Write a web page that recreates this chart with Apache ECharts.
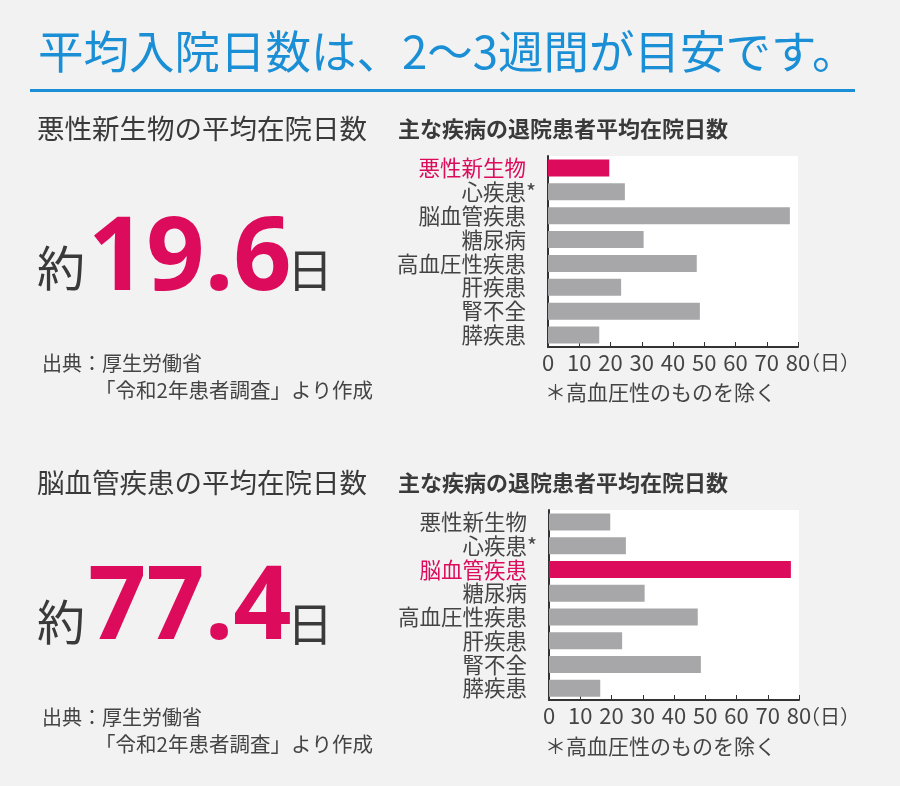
<!DOCTYPE html>
<html>
<head>
<meta charset="utf-8">
<script src="https://cdn.jsdelivr.net/npm/echarts@6/dist/echarts.min.js"></script>
<style>
  html, body { margin: 0; padding: 0; background: #f2f2f2; }
  #main { width: 900px; height: 786px; }
</style>
</head>
<body>
<div id="main"></div>
<script>
// 主な疾病の退院患者平均在院日数（令和2年患者調査）
const categories = ['悪性新生物', '心疾患*', '脳血管疾患', '糖尿病', '高血圧性疾患', '肝疾患', '腎不全', '膵疾患']
const days = [19.6, 24.6, 77.4, 30.6, 47.6, 23.4, 48.6, 16.4]
const xMin = 0
const xMax = 80
const xStep = 10
// 上のグラフは悪性新生物、下のグラフは脳血管疾患を強調
const highlight = ['悪性新生物', '脳血管疾患']

const PINK = '#dc0b5c'
const GRAY = '#a7a7a9'
const TEXT = '#3a3a3a'
const FONT = "'Noto Sans CJK JP', 'Noto Sans', sans-serif"

var chartDom = document.getElementById('main')
var myChart = echarts.init(chartDom)

function makeX(idx){
    return {
        gridIndex: idx,
        type: 'value',
        min: xMin,
        max: xMax,
        interval: xStep,
        axisLine: { show: true, lineStyle: { color: '#333', width: 2 } },
        axisTick: { show: true, inside: true, length: 5, lineStyle: { color: '#333', width: 1 } },
        axisLabel: { fontSize: 22, color: '#444', margin: 5, fontFamily: FONT },
        splitLine: { show: false }
    }
}

function makeY(idx){
    var hl = highlight[idx]
    return {
        gridIndex: idx,
        type: 'category',
        inverse: true,
        data: categories,
        axisLine: { show: true, lineStyle: { color: '#333', width: 2 } },
        axisTick: { show: false },
        axisLabel: {
            interval: 0,
            fontSize: 21.5,
            color: '#444',
            margin: 22,
            fontFamily: FONT,
            formatter(value){
                if (value === hl) return '{hl|' + value + '}'
                // 「*」は文字の右にはみ出させる
                if (value.indexOf('*') > -1) return '{n|' + value.replace('*', '') + '}{s|*}'
                return value
            },
            rich: {
                hl: { color: PINK, fontSize: 21.5, fontFamily: FONT },
                n: { align: 'left', color: '#444', fontSize: 21.5, fontFamily: FONT },
                s: { align: 'left', width: 0, color: '#444', fontSize: 21.5, fontFamily: FONT }
            }
        }
    }
}

function makeSeries(idx){
    var hl = highlight[idx]
    return {
        type: 'bar',
        xAxisIndex: idx,
        yAxisIndex: idx,
        barWidth: 17,
        silent: true,
        data: days.map(function(v, i){
            return { value: v, itemStyle: { color: categories[i] === hl ? PINK : GRAY } }
        })
    }
}

function txt(text, x, y, size, color, weight, family){
    return {
        type: 'text',
        silent: true,
        style: {
            text: text,
            x: x,
            y: y,
            fill: color,
            font: (weight || 'normal') + ' ' + size + 'px ' + (family || FONT),
            textAlign: 'left',
            textVerticalAlign: 'middle',
            align: 'left',
            verticalAlign: 'middle'
        }
    }
}

function block(d, numY, title, num){
    // d は上段を基準にした縦のずれ
    return [
        txt(title + 'の平均在院日数', 37, 129 + d, 27.5, TEXT, 'normal'),
        txt('主な疾病の退院患者平均在院日数', 398, 129 + d, 22, TEXT, 'bold'),
        txt('約', 37, 268 + d, 48, TEXT, 'normal'),
        txt(num, 88, numY, 102, PINK, 'bold', "'Noto Sans', " + FONT),
        txt('日', 287, 270 + d, 46, TEXT, 'normal'),
        txt('出典：厚生労働省', 42, 363 + d, 20, '#444', 'normal'),
        txt('「令和2年患者調査」より作成', 95, 390 + d, 20.5, '#444', 'normal'),
        txt('（日）', 800, 362 + d, 20, '#444', 'normal'),
        txt('＊高血圧性のものを除く', 545, 392 + d, 21, '#444', 'normal')
    ]
}

var graphics = [
    txt('平均入院日数は、2〜3週間が目安です。', 38, 52, 45.5, '#1a8fd6', 'normal'),
    { type: 'rect', silent: true, shape: { x: 30, y: 89, width: 825, height: 3 }, style: { fill: '#1a8fd6' } }
].concat(block(0, 261, '悪性新生物', '19.6')).concat(block(354, 610, '脳血管疾患', '77.4'))

var option = {
    backgroundColor: '#f2f2f2',
    animation: false,
    textStyle: { fontFamily: FONT },
    grid: [
        { left: 548, top: 156, width: 250, height: 191, show: true, backgroundColor: '#fff', borderWidth: 0 },
        { left: 549, top: 510, width: 250, height: 190, show: true, backgroundColor: '#fff', borderWidth: 0 }
    ],
    xAxis: [makeX(0), makeX(1)],
    yAxis: [makeY(0), makeY(1)],
    series: [makeSeries(0), makeSeries(1)],
    graphic: graphics
}
myChart.setOption(option)
</script>
</body>
</html>
